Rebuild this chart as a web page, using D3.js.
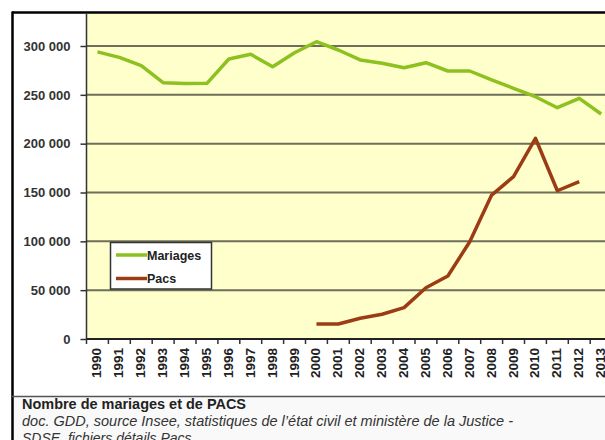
<!DOCTYPE html>
<html><head><meta charset="utf-8">
<script src="https://cdn.jsdelivr.net/npm/d3@7"></script>
<style>
html,body{margin:0;padding:0;background:#fff;}
svg{display:block;font-family:"Liberation Sans",Arial,sans-serif;}
</style></head>
<body>
<svg id="c" width="605" height="440"></svg>
<script>
const years = d3.range(1990, 2014).map(String);
const mariages = [294000, 288400, 279800, 262400, 261500, 261800, 286700, 291500, 278800, 293100, 304400, 295900, 285700, 282300, 277800, 282900, 274400, 274400, 265200, 256700, 248100, 236800, 246400, 230400];
const pacsYears = ["2000","2001","2002","2003","2004","2005","2006","2007","2008","2009","2010","2011","2012"];
const pacs = [15400, 15400, 21200, 25300, 32100, 52500, 64500, 99600, 147400, 166200, 205500, 151800, 161100];
const yTicks = [0, 50000, 100000, 150000, 200000, 250000, 300000];
const seriesNames = ["Mariages", "Pacs"];
const colors = ["#8cc11f", "#9c3c14"];
const captionLines = ["doc. GDD, source Insee, statistiques de l\u2019état civil et ministère de la Justice -", "SDSE, fichiers détails Pacs"];
const captionTitle = "Nombre de mariages et de PACS";

const svg = d3.select("#c");
const pLeft = 86.5, pBottom = 339, pTop = 14;
const x = d3.scaleBand().domain(years).range([pLeft, pLeft + 24 * 21.9]);
const y = d3.scaleLinear().domain([0, 300000]).range([pBottom, 46]);

// caption background
svg.append("rect").attr("x", 12).attr("y", 397).attr("width", 600).attr("height", 50).attr("fill", "#f9f9f9");
// plot background
svg.append("rect").attr("x", pLeft).attr("y", pTop).attr("width", 600).attr("height", pBottom - pTop).attr("fill", "#ffffcc");

// gridlines
svg.append("g").selectAll("line").data(yTicks.filter(d => d > 0)).join("line")
  .attr("x1", pLeft).attr("x2", 610).attr("y1", d => y(d)).attr("y2", d => y(d))
  .attr("stroke", "#6e6e5a").attr("stroke-width", 2);

// y axis
const yAxis = d3.axisLeft(y).tickValues(yTicks).tickSize(6).tickPadding(10)
  .tickFormat(d => d3.format(",")(d).replace(/,/g, " "));
const gy = svg.append("g").attr("transform", `translate(${pLeft},0)`).call(yAxis);
gy.select(".domain").remove();
gy.selectAll(".tick line").attr("stroke", "#333").attr("stroke-width", 1.5);
gy.selectAll("text").attr("font-size", 13).attr("font-weight", "bold").attr("fill", "#333")
  .attr("font-family", "Liberation Sans, Arial, sans-serif");
svg.append("line").attr("x1", pLeft).attr("x2", pLeft).attr("y1", pTop).attr("y2", pBottom)
  .attr("stroke", "#333").attr("stroke-width", 1.5);

// x axis
const xAxis = d3.axisBottom(x).tickSize(0).tickPadding(0);
const gx = svg.append("g").attr("transform", `translate(0,${pBottom})`).call(xAxis);
gx.select(".domain").remove();
gx.selectAll("text").attr("font-size", 12.5).attr("font-weight", "bold").attr("fill", "#222")
  .attr("font-family", "Liberation Sans, Arial, sans-serif")
  .attr("text-anchor", "end").attr("dy", null)
  .attr("textLength", 30).attr("lengthAdjust", "spacingAndGlyphs")
  .attr("transform", "translate(4,9) rotate(-90)");
svg.append("g").selectAll("line").data(years).join("line")
  .attr("x1", d => x(d)).attr("x2", d => x(d)).attr("y1", pBottom).attr("y2", pBottom + 5)
  .attr("stroke", "#333").attr("stroke-width", 1.5);
svg.append("line").attr("x1", pLeft).attr("x2", 610).attr("y1", pBottom).attr("y2", pBottom)
  .attr("stroke", "#222").attr("stroke-width", 2);

// lines
const cx = d => x(d) + x.bandwidth() / 2;
const line = d3.line().x(d => cx(d[0])).y(d => y(d[1]));
svg.append("path").datum(years.map((yr, i) => [yr, mariages[i]])).attr("d", line)
  .attr("fill", "none").attr("stroke", colors[0]).attr("stroke-width", 3.5).attr("stroke-linejoin", "round");
svg.append("path").datum(pacsYears.map((yr, i) => [yr, pacs[i]])).attr("d", line)
  .attr("fill", "none").attr("stroke", colors[1]).attr("stroke-width", 3.5).attr("stroke-linejoin", "round");

// legend
const lg = svg.append("g");
lg.append("rect").attr("x", 110.5).attr("y", 242.5).attr("width", 101).attr("height", 46.5)
  .attr("fill", "#fff").attr("stroke", "#333").attr("stroke-width", 1.5);
seriesNames.forEach((n, i) => {
  const yy = 255 + i * 23.5;
  lg.append("line").attr("x1", 116).attr("x2", 147).attr("y1", yy).attr("y2", yy)
    .attr("stroke", colors[i]).attr("stroke-width", 3.5);
  lg.append("text").attr("x", 147).attr("y", yy + 4.5).text(n)
    .attr("font-size", 12.5).attr("font-weight", "bold").attr("fill", "#222");
});

// outer border
svg.append("line").attr("x1", 12).attr("x2", 605).attr("y1", 12.5).attr("y2", 12.5).attr("stroke", "#000").attr("stroke-width", 2.5);
svg.append("line").attr("x1", 12.5).attr("x2", 12.5).attr("y1", 11.5).attr("y2", 440).attr("stroke", "#000").attr("stroke-width", 2.5);
svg.append("line").attr("x1", 12).attr("x2", 605).attr("y1", 396.5).attr("y2", 396.5).attr("stroke", "#555").attr("stroke-width", 1.5);

// caption
svg.append("text").attr("x", 22).attr("y", 409).text(captionTitle)
  .attr("font-size", 14).attr("font-weight", "bold").attr("fill", "#222")
  .attr("textLength", 224).attr("lengthAdjust", "spacingAndGlyphs");
captionLines.forEach((t, i) => {
  const tx = svg.append("text").attr("x", 22).attr("y", 425.5 + i * 17).text(t)
    .attr("font-size", 14).attr("font-style", "italic").attr("fill", "#333");
  if (i === 0) tx.attr("textLength", 491).attr("lengthAdjust", "spacingAndGlyphs");
});
</script>
</body></html>
